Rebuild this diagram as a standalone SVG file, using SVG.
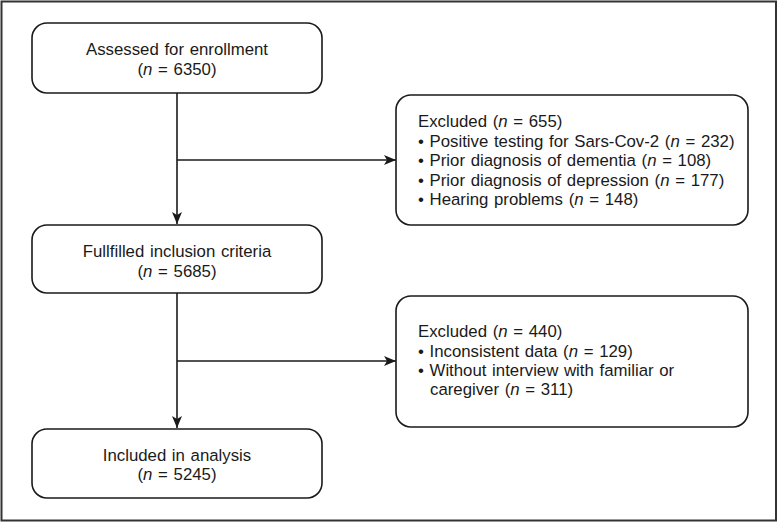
<svg xmlns="http://www.w3.org/2000/svg" width="778" height="522" viewBox="0 0 778 522">
<defs>
<marker id="ah" markerWidth="12" markerHeight="12" viewBox="0 0 12 12" refX="12" refY="6" orient="auto" markerUnits="userSpaceOnUse">
<path d="M0,1 L12,6 L0,11 L3,6 Z" fill="#1a1a1a"/>
</marker>
<style>
.box{fill:#fff;stroke:#1a1a1a;stroke-width:1.6}
.t{font-family:"Liberation Sans",Arial,sans-serif;font-size:16.8px;word-spacing:1px;fill:#1a1a1a}
.c{text-anchor:middle}
.ln{stroke:#1a1a1a;stroke-width:1.6;fill:none}
</style>
</defs>
<rect x="0" y="0" width="778" height="522" fill="#fff"/>
<rect x="1.5" y="1.5" width="774.5" height="519" fill="none" stroke="#333" stroke-width="2"/>
<g id="connectors">
<line class="ln" x1="177" y1="93" x2="177" y2="224" marker-end="url(#ah)"/>
<line class="ln" x1="177" y1="160" x2="396" y2="160" marker-end="url(#ah)"/>
<line class="ln" x1="177" y1="293" x2="177" y2="428" marker-end="url(#ah)"/>
<line class="ln" x1="177" y1="361" x2="396" y2="361" marker-end="url(#ah)"/>
</g>
<g id="n1">
<rect class="box" x="32" y="23" width="290" height="70" rx="15"/>
<text class="t c" x="177" y="55">Assessed for enrollment</text>
<text class="t c" x="177" y="75">(<tspan font-style="italic">n</tspan> = 6350)</text>
</g>
<g id="n2">
<rect class="box" x="396" y="95" width="352" height="130" rx="15"/>
<text class="t" x="418" y="127">Excluded (<tspan font-style="italic">n</tspan> = 655)</text>
<text class="t" x="418" y="147">• Positive testing for Sars-Cov-2 (<tspan font-style="italic">n</tspan> = 232)</text>
<text class="t" x="418" y="166">• Prior diagnosis of dementia (<tspan font-style="italic">n</tspan> = 108)</text>
<text class="t" x="418" y="186">• Prior diagnosis of depression (<tspan font-style="italic">n</tspan> = 177)</text>
<text class="t" x="418" y="205">• Hearing problems (<tspan font-style="italic">n</tspan> = 148)</text>
</g>
<g id="n3">
<rect class="box" x="32" y="225" width="290" height="68" rx="15"/>
<text class="t c" x="177" y="257">Fullfilled inclusion criteria</text>
<text class="t c" x="177" y="277">(<tspan font-style="italic">n</tspan> = 5685)</text>
</g>
<g id="n4">
<rect class="box" x="396" y="296" width="352" height="131" rx="15"/>
<text class="t" x="418" y="337">Excluded (<tspan font-style="italic">n</tspan> = 440)</text>
<text class="t" x="418" y="357">• Inconsistent data (<tspan font-style="italic">n</tspan> = 129)</text>
<text class="t" x="418" y="376">• Without interview with familiar or</text>
<text class="t" x="430" y="395">caregiver (<tspan font-style="italic">n</tspan> = 311)</text>
</g>
<g id="n5">
<rect class="box" x="32" y="429" width="290" height="69" rx="15"/>
<text class="t c" x="177" y="461">Included in analysis</text>
<text class="t c" x="177" y="480">(<tspan font-style="italic">n</tspan> = 5245)</text>
</g>
</svg>
